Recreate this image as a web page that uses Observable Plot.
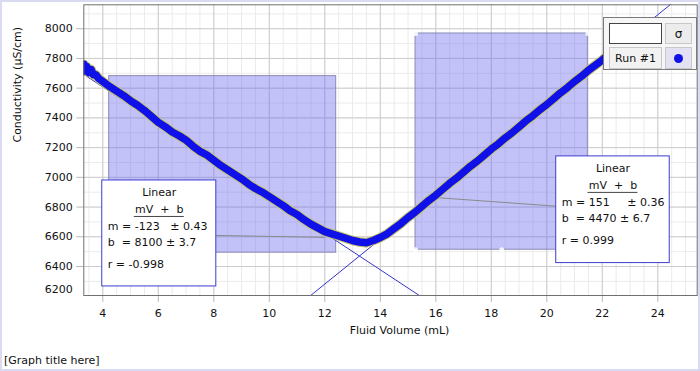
<!DOCTYPE html>
<html><head><meta charset="utf-8">
<script src="https://cdn.jsdelivr.net/npm/d3@7"></script>
<script src="https://cdn.jsdelivr.net/npm/@observablehq/plot@0.6"></script>
<style>
body{margin:0;background:#fff;font-family:"DejaVu Sans",sans-serif;}
#wrap{position:relative;width:700px;height:371px;overflow:hidden;background:#fff;}
#chart svg{display:block;}
#border{position:absolute;left:0;top:0;width:700px;height:371px;box-sizing:border-box;border:2px solid #dadaf3;pointer-events:none;}
#caption{position:absolute;left:4px;top:353px;font-size:11px;line-height:15px;color:#111;}
.cell{position:absolute;box-sizing:border-box;font-size:11px;color:#111;display:flex;align-items:center;justify-content:center;}
</style></head>
<body>
<div id="wrap">
  <div id="chart"></div>
  <div id="caption">[Graph title here]</div>
  <div class="cell" style="left:603px;top:17px;width:94px;height:53px;background:#f6f6f6;border:1px solid #7a7a7a;"></div>
  <div class="cell" style="left:609px;top:23px;width:53px;height:21px;background:#fff;border:1px solid #444;"></div>
  <div class="cell" style="left:665px;top:23px;width:27px;height:21px;background:#ececec;border:1px solid #c8c8c8;font-size:12px;">σ</div>
  <div class="cell" style="left:609px;top:47px;width:53px;height:22px;background:#f2f2f2;border:1px solid #c8c8c8;">Run #1</div>
  <div class="cell" style="left:665px;top:47px;width:27px;height:22px;background:#e2e2f2;border:1px solid #c8c8c8;"><span style="display:block;width:9px;height:9px;border-radius:50%;background:#1010e8;"></span></div>
  <div id="border"></div>
</div>
<script>
// Measured data (Fluid Volume mL, Conductivity µS/cm)
const volume = [3.32,3.36,3.42,3.5,3.58,3.66,3.75,3.85,4.0,4.25,4.5,4.75,5.0,5.25,5.5,5.75,6.0,6.25,6.5,6.75,7.0,7.25,7.5,7.75,8.0,8.25,8.5,8.75,9.0,9.25,9.5,9.75,10.0,10.25,10.5,10.75,11.0,11.25,11.5,11.75,12.0,12.25,12.5,12.75,13.0,13.25,13.5,13.75,14.0,14.25,14.5,14.75,15.0,15.25,15.5,15.75,16.0,16.25,16.5,16.75,17.0,17.25,17.5,17.75,18.0,18.25,18.5,18.75,19.0,19.25,19.5,19.75,20.0,20.25,20.5,20.75,21.0,21.25,21.5,21.75,22.0,22.25,22.5];
const conductivity = [7760,7715,7745,7705,7725,7690,7690,7665,7645,7610,7580,7550,7515,7485,7450,7410,7370,7340,7305,7280,7250,7210,7175,7150,7115,7080,7050,7020,6990,6955,6925,6900,6870,6840,6810,6775,6750,6715,6685,6660,6635,6620,6605,6590,6575,6565,6560,6575,6595,6620,6655,6690,6730,6765,6805,6845,6880,6920,6960,6995,7035,7075,7110,7150,7190,7225,7265,7300,7340,7380,7415,7455,7490,7530,7570,7605,7645,7680,7720,7755,7790,7830,7865];

// Axis ticks
const xTicks = [4,6,8,10,12,14,16,18,20,22,24];
const yTicks = [6200,6400,6600,6800,7000,7200,7400,7600,7800,8000];
const xDomain = [3.315, 25.42];
const yDomain = [6205, 8161];

// Linear fits
const fitSlope = [-123, 151];
const fitIntercept = [8100, 4470];
const slopeLabel = ["-123", "151"];
const slopeErr = ["0.43", "0.36"];
const interceptLabel = ["8100", "4470"];
const interceptErr = ["3.7", "6.7"];
const rLabel = ["-0.998", "0.999"];

// Selected fit regions
const regionStart = [4.23, 15.27];
const regionEnd = [12.41, 21.48];
const regionTop = [7681, 7968];
const regionBottom = [6493, 6513];

// Annotation boxes and connectors (data coordinates)
const boxLeftV = [3.98, 20.34];
const boxRightV = [8.09, 24.43];
const boxTopC = [6979, 7141];
const boxBottomC = [6266, 6423];
const connFromV = [8.09, 20.34];
const connFromC = [6609, 6806];
const connToV = [11.99, 15.92];
const connToC = [6596, 6865];

const data = volume.map((v, i) => ({v, c: conductivity[i]}));
const regions = regionStart.map((s, i) => ({x1: s, x2: regionEnd[i], y1: regionBottom[i], y2: regionTop[i]}));
const handles = [
  {v: regionStart[1], c: regionTop[1]}, {v: regionEnd[1], c: regionTop[1]},
  {v: regionStart[1], c: regionBottom[1]}, {v: regionEnd[1], c: regionBottom[1]},
  {v: (regionStart[1] + regionEnd[1]) / 2, c: regionBottom[1]}
];
const fitLines = fitSlope.flatMap((m, i) => xDomain.map(v => ({fit: i, v, c: m * v + fitIntercept[i]})));
const boxes = boxLeftV.map((l, i) => ({
  l, r: boxRightV[i], t: boxTopC[i], b: boxBottomC[i], mid: (l + boxRightV[i]) / 2,
  m: slopeLabel[i], me: slopeErr[i], bb: interceptLabel[i], be: interceptErr[i], rr: rLabel[i]
}));
const conns = connFromV.map((v, i) => ({x1: v, y1: connFromC[i], x2: connToV[i], y2: connToC[i]}));

const NB = "\u00a0";
const fmt = d => String(d);
const chart = Plot.plot({
  width: 700, height: 345,
  marginLeft: 83.3, marginRight: 3.3, marginTop: 4.3, marginBottom: 50,
  style: {fontFamily: "DejaVu Sans", fontSize: "11px", color: "#111", background: "transparent"},
  x: {domain: xDomain},
  y: {domain: yDomain},
  marks: [
    Plot.gridX(d3.range(3.5, 25.5, 0.5), {stroke: "#ebebeb", strokeOpacity: 1}),
    Plot.gridY(d3.range(6300, 8200, 100), {stroke: "#ebebeb", strokeOpacity: 1}),
    Plot.gridX(xTicks, {stroke: "#cccccc", strokeOpacity: 1}),
    Plot.gridY(yTicks.slice(1), {stroke: "#cccccc", strokeOpacity: 1}),
    Plot.axisX(xTicks, {tickSize: 7, tickPadding: 7, stroke: "#b8b8b8", fill: "#111", label: null, fontSize: 11, tickFormat: fmt}),
    Plot.axisY(yTicks.slice(1), {tickSize: 7, tickPadding: 4, stroke: "#b8b8b8", fill: "#111", label: null, fontSize: 11, tickFormat: fmt}),
    Plot.axisY([yTicks[0]], {tickSize: 0, tickPadding: 11, dy: -7, fill: "#111", label: null, fontSize: 11, tickFormat: fmt}),
    Plot.rect(regions, {x1: "x1", x2: "x2", y1: "y1", y2: "y2", fill: "rgb(110,110,240)", fillOpacity: 0.42, stroke: "#8a8ab2", strokeWidth: 1}),
    Plot.dot(handles, {x: "v", y: "c", r: 2.5, fill: "white", fillOpacity: 0.85}),
    Plot.line(fitLines, {x: "v", y: "c", z: "fit", stroke: "#3434c8", strokeWidth: 1, clip: true}),
    Plot.link(conns, {x1: "x1", y1: "y1", x2: "x2", y2: "y2", stroke: "#8a8a8a", strokeWidth: 1}),
    Plot.line(data, {x: "v", y: "c", stroke: "#c6c46a", strokeWidth: 9.5, strokeLinejoin: "round", strokeLinecap: "round", clip: true}),
    Plot.line(data, {x: "v", y: "c", stroke: "#1010e8", strokeWidth: 7.5, strokeLinejoin: "round", strokeLinecap: "round", clip: true}),
    Plot.rect(boxes, {x1: "l", x2: "r", y1: "b", y2: "t", fill: "white", stroke: "#3c3cd0", strokeWidth: 1}),
    Plot.text(boxes, {x: "mid", y: "t", text: () => "Linear", dy: 12.5, fontSize: 11, fill: "#111"}),
    Plot.text(boxes, {x: "mid", y: "t", text: () => `mV${NB}${NB}+${NB}${NB}b`, dy: 29, fontSize: 11, fill: "#111"}),
    Plot.ruleY(boxes, {y: "t", x1: d => d.mid - 0.9, x2: d => d.mid + 0.9, dy: 36, stroke: "#444", strokeWidth: 1}),
    Plot.text(boxes, {x: "l", y: "t", dx: 5.6, dy: 46, textAnchor: "start", fontSize: 11, fill: "#111",
      text: d => `m = ${d.m}${d.m.length < 4 ? NB.repeat(5) : NB.repeat(3)}± ${d.me}`}),
    Plot.text(boxes, {x: "l", y: "t", dx: 5.6, dy: 62.5, textAnchor: "start", fontSize: 11, fill: "#111",
      text: d => `b${NB}${NB}= ${d.bb} ± ${d.be}`}),
    Plot.text(boxes, {x: "l", y: "t", dx: 5.6, dy: 84, textAnchor: "start", fontSize: 11, fill: "#111",
      text: d => `r = ${d.rr}`}),
    Plot.frame({stroke: "#707070", strokeWidth: 1}),
    Plot.text(["Conductivity (µS/cm)"], {frameAnchor: "left", text: d => d, dx: -66.3, dy: -7.6, rotate: -90, fontSize: 11, fill: "#111"}),
    Plot.text(["Fluid Volume (mL)"], {frameAnchor: "bottom", text: d => d, dx: 9, dy: 38, fontSize: 11, fill: "#111"})
  ]
});
document.getElementById("chart").appendChild(chart);
</script>
</body></html>
